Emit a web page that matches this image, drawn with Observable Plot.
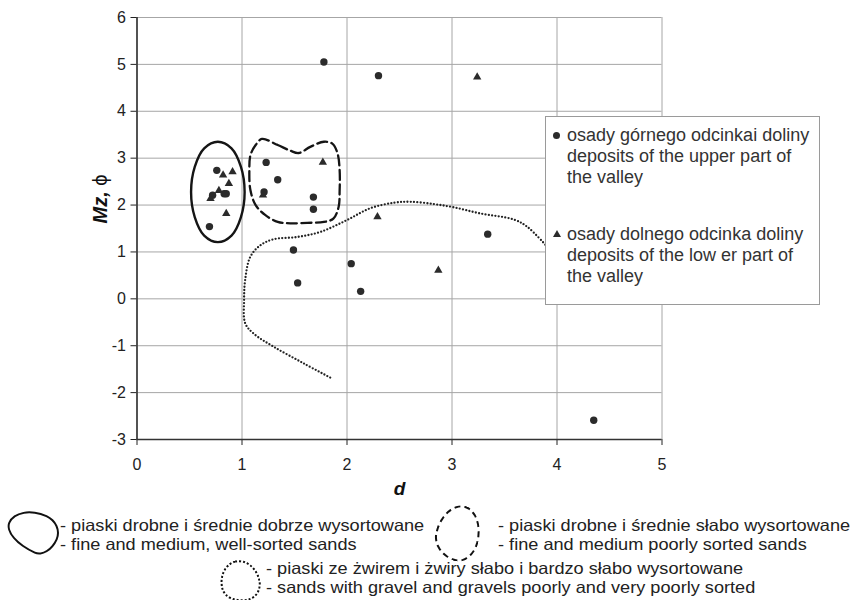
<!DOCTYPE html>
<html><head><meta charset="utf-8">
<script src="https://cdn.jsdelivr.net/npm/d3@7"></script>
<script src="https://cdn.jsdelivr.net/npm/@observablehq/plot@0.6"></script>
<style>
body{margin:0;background:#fff;font-family:"Liberation Sans",Arial,sans-serif;}
#wrap{position:relative;width:855px;height:600px;overflow:hidden;}
#legend{position:absolute;left:545px;top:116px;background:#fff;border:1px solid #9a9a9a;padding:8px 10px 17px 21px;font-size:18px;line-height:21px;color:#333;white-space:nowrap;}
.entry{position:relative;}
.entry + .entry{margin-top:36px;}
.mk{position:absolute;}
.mk.c{left:-14px;top:7px;width:7px;height:7px;border-radius:50%;background:#2b2b2b;}
.mk.t{left:-14.5px;top:6px;width:0;height:0;border-left:4px solid transparent;border-right:4px solid transparent;border-bottom:7.5px solid #2b2b2b;}
.bl{position:absolute;font-size:16.5px;line-height:18.6px;color:#222;white-space:nowrap;transform:scaleX(1.1);transform-origin:0 0;}
.icon{position:absolute;}
</style></head><body><div id="wrap"></div>
<script>
// data: deposits of the upper part of the valley (circles)
const upperD  = [1.78, 2.30, 3.34, 1.49, 2.04, 1.53, 2.13, 4.35, 0.76, 0.83, 0.85, 0.72, 0.69, 1.23, 1.34, 1.21, 1.68, 1.68];
const upperMz = [5.05, 4.76, 1.38, 1.04, 0.75, 0.34, 0.16, -2.59, 2.74, 2.24, 2.24, 2.21, 1.54, 2.91, 2.54, 2.28, 2.17, 1.91];
// deposits of the lower part of the valley (triangles)
const lowerD  = [3.24, 2.29, 2.87, 0.91, 0.82, 0.875, 0.70, 0.78, 0.85, 1.20, 1.77];
const lowerMz = [4.73, 1.75, 0.61, 2.71, 2.64, 2.46, 2.14, 2.31, 1.82, 2.21, 2.91];
// outline: fine and medium, well-sorted sands (solid)
const wellD  = [0.77, 0.90, 0.99, 1.025, 0.99, 0.90, 0.77, 0.64, 0.55, 0.515, 0.55, 0.64];
const wellMz = [3.35, 3.21, 2.815, 2.28, 1.745, 1.35, 1.21, 1.35, 1.745, 2.28, 2.815, 3.21];
// outline: fine and medium poorly sorted sands (dashed)
const poorD  = [1.19, 1.34, 1.46, 1.54, 1.65, 1.78, 1.86, 1.91, 1.93, 1.93, 1.92, 1.87, 1.78, 1.62, 1.46, 1.34, 1.22, 1.13, 1.08, 1.07, 1.08, 1.13];
const poorMz = [3.41, 3.28, 3.16, 3.11, 3.24, 3.35, 3.31, 3.10, 2.74, 2.32, 1.96, 1.71, 1.64, 1.62, 1.61, 1.64, 1.79, 2.00, 2.32, 2.74, 3.06, 3.28];
// outline: sands with gravel and gravels (dotted)
const gravelD  = [1.84, 1.59, 1.30, 1.11, 1.03, 1.02, 1.03, 1.08, 1.18, 1.30, 1.53, 1.75, 2.00, 2.22, 2.45, 2.60, 2.83, 3.02, 3.27, 3.59, 3.72, 3.89];
const gravelMz = [-1.68, -1.38, -1.02, -0.74, -0.52, -0.03, 0.40, 0.90, 1.15, 1.27, 1.32, 1.43, 1.68, 1.93, 2.05, 2.07, 2.02, 1.95, 1.82, 1.69, 1.53, 1.15];
const xTicks = [0, 1, 2, 3, 4, 5];
const yTicks = [-3, -2, -1, 0, 1, 2, 3, 4, 5, 6];
const xLabel = "d";
const yLabelMain = "Mz,";
const yLabelUnit = "ϕ";
const seriesLegend = [
  ["osady górnego odcinkai doliny", "deposits of the upper part of", "the valley"],
  ["osady dolnego odcinka doliny", "deposits of the low er part of", "the valley"]
];
const outlineLegend = [
  ["- piaski drobne i średnie dobrze wysortowane", "- fine and medium, well-sorted sands"],
  ["- piaski drobne i średnie słabo wysortowane", "- fine and medium poorly sorted sands"],
  ["- piaski ze żwirem i żwiry słabo i bardzo słabo wysortowane", "- sands with gravel and gravels poorly and very poorly sorted"]
];

const zip = (xs, ys) => xs.map((x, i) => ({x, y: ys[i]}));
const upper = zip(upperD, upperMz), lower = zip(lowerD, lowerMz);
const well = zip(wellD, wellMz), poor = zip(poorD, poorMz), gravel = zip(gravelD, gravelMz);
const fmt = d => `${d}`;

const plot = Plot.plot({
  width: 855, height: 500,
  marginLeft: 136.5, marginRight: 193.5, marginTop: 17, marginBottom: 61,
  x: {domain: [0, 5], label: null},
  y: {domain: [-3, 6], label: null},
  style: {fontFamily: "'Liberation Sans', Arial, sans-serif", fontSize: "16px", color: "#222", background: "#fff", overflow: "visible"},
  marks: [
    Plot.gridX(xTicks, {stroke: "#a6a6a6", strokeOpacity: 1}),
    Plot.gridY(yTicks, {stroke: "#a6a6a6", strokeOpacity: 1}),
    Plot.axisX({ticks: xTicks, tickFormat: fmt, tickSize: 6, tickPadding: 13, fontSize: 16, label: null}),
    Plot.axisY({ticks: yTicks, tickFormat: fmt, tickSize: 6, tickPadding: 5, fontSize: 16, label: null}),
    Plot.ruleX([xTicks[0]], {stroke: "#333", strokeWidth: 1.6}),
    Plot.ruleY([yTicks[0]], {stroke: "#333", strokeWidth: 1.6}),
    Plot.line(well, {x: "x", y: "y", curve: "catmull-rom-closed", stroke: "#151515", strokeWidth: 2.4}),
    Plot.line(poor, {x: "x", y: "y", curve: "catmull-rom-closed", stroke: "#151515", strokeWidth: 2.3, strokeDasharray: "10,4.5"}),
    Plot.line(gravel, {x: "x", y: "y", curve: "catmull-rom", stroke: "#222", strokeWidth: 2.3, strokeDasharray: "0,3.3", strokeLinecap: "round"}),
    Plot.dot(upper, {x: "x", y: "y", r: 3.7, fill: "#2b2b2b", stroke: "none", symbol: "circle"}),
    Plot.dot(lower, {x: "x", y: "y", r: 3.1, fill: "#2b2b2b", stroke: "none", symbol: "triangle"}),
    Plot.text([xLabel], {frameAnchor: "bottom", dy: 55, fontSize: 19, fontWeight: "bold", fontStyle: "italic", fill: "#111"}),
    Plot.text([yLabelMain + " " + yLabelUnit], {frameAnchor: "left", dx: -36, dy: -5, rotate: -90, fontSize: 20, fontWeight: "bold", fontStyle: "italic", fill: "#111", className: "ylab"})
  ]
});
plot.style.position = "absolute";
plot.style.left = "0px";
plot.style.top = "0px";
const wrap = document.getElementById("wrap");
wrap.appendChild(plot);

// split y label into bold-italic "Mz," and regular phi
d3.select(plot).selectAll(".ylab text").each(function() {
  const t = d3.select(this);
  t.text(null);
  t.append("tspan").text(yLabelMain);
  t.append("tspan").attr("font-weight", "normal").attr("font-style", "normal").text(" " + yLabelUnit);
});

// in-plot series legend
const leg = d3.select(wrap).append("div").attr("id", "legend");
seriesLegend.forEach((lines, i) => {
  const e = leg.append("div").attr("class", "entry");
  e.append("div").attr("class", "mk " + (i === 0 ? "c" : "t"));
  lines.forEach(l => e.append("div").text(l));
});

// outline legend below the chart
const icons = [
  {left: 7, top: 511, w: 48, h: 36, style: "solid", radius: "62% 38% 30% 70% / 55% 45% 55% 45%", rot: 24},
  {left: 436, top: 505, w: 40, h: 52, style: "dashed", radius: "50% 50% 40% 60% / 58% 58% 42% 42%", rot: 14},
  {left: 220, top: 560, w: 36, h: 38, style: "dotted", radius: "50% 50% 40% 60% / 58% 58% 42% 42%", rot: -14}
];
const textPos = [{left: 60, top: 516}, {left: 498, top: 516}, {left: 266, top: 559}];
outlineLegend.forEach((lines, i) => {
  const ic = icons[i];
  d3.select(wrap).append("div").attr("class", "icon")
    .style("left", ic.left + "px").style("top", ic.top + "px")
    .style("width", ic.w + "px").style("height", ic.h + "px")
    .style("border", `2.4px ${ic.style} #111`).style("border-radius", ic.radius)
    .style("transform", `rotate(${ic.rot}deg)`);
  const t = d3.select(wrap).append("div").attr("class", "bl")
    .style("left", textPos[i].left + "px").style("top", textPos[i].top + "px");
  lines.forEach(l => t.append("div").text(l));
});
</script>
</body></html>
